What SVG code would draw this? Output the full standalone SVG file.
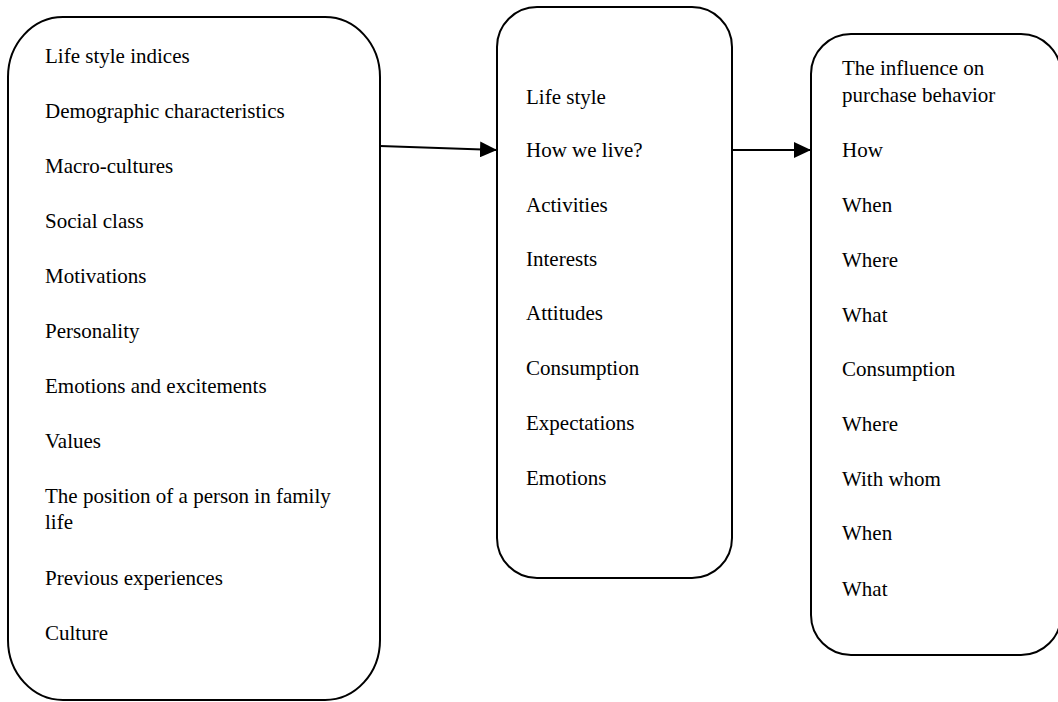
<svg xmlns="http://www.w3.org/2000/svg" width="1058" height="702" viewBox="0 0 1058 702">
<defs>
<style>
.box{fill:#fff;stroke:#000;stroke-width:2}
.t{font-family:"Liberation Serif","Times New Roman",serif;font-size:21px;fill:#000}
.c{stroke:#000;stroke-width:2;fill:none}
</style>
<marker id="ah" viewBox="0 0 17 16" refX="17" refY="8" markerWidth="17" markerHeight="16" markerUnits="userSpaceOnUse" orient="auto">
<path d="M0,0 L17,8 L0,16 Z" fill="#000"/>
</marker>
</defs>
<rect width="1058" height="702" fill="#fff"/>
<g id="left">
<rect class="box" x="8" y="17" width="372" height="683" rx="55" ry="60"/>
<text class="t" x="45" y="63">Life style indices</text>
<text class="t" x="45" y="118">Demographic characteristics</text>
<text class="t" x="45" y="173">Macro-cultures</text>
<text class="t" x="45" y="228">Social class</text>
<text class="t" x="45" y="283">Motivations</text>
<text class="t" x="45" y="338">Personality</text>
<text class="t" x="45" y="393">Emotions and excitements</text>
<text class="t" x="45" y="448">Values</text>
<text class="t" x="45" y="503">The position of a person in family</text>
<text class="t" x="45" y="529">life</text>
<text class="t" x="45" y="585">Previous experiences</text>
<text class="t" x="45" y="640">Culture</text>
</g>
<g id="middle">
<rect class="box" x="497" y="7" width="235" height="571" rx="40" ry="40"/>
<text class="t" x="526" y="104">Life style</text>
<text class="t" x="526" y="157">How we live?</text>
<text class="t" x="526" y="212">Activities</text>
<text class="t" x="526" y="266">Interests</text>
<text class="t" x="526" y="320">Attitudes</text>
<text class="t" x="526" y="375">Consumption</text>
<text class="t" x="526" y="430">Expectations</text>
<text class="t" x="526" y="485">Emotions</text>
</g>
<g id="right">
<rect class="box" x="811" y="34" width="250" height="621" rx="40" ry="40"/>
<text class="t" x="842" y="75">The influence on</text>
<text class="t" x="842" y="102">purchase behavior</text>
<text class="t" x="842" y="157">How</text>
<text class="t" x="842" y="212">When</text>
<text class="t" x="842" y="267">Where</text>
<text class="t" x="842" y="322">What</text>
<text class="t" x="842" y="376">Consumption</text>
<text class="t" x="842" y="431">Where</text>
<text class="t" x="842" y="486">With whom</text>
<text class="t" x="842" y="540">When</text>
<text class="t" x="842" y="596">What</text>
</g>
<g id="connectors">
<line class="c" x1="380" y1="146" x2="497" y2="150" marker-end="url(#ah)"/>
<line class="c" x1="732" y1="150" x2="811" y2="150" marker-end="url(#ah)"/>
</g>
</svg>
